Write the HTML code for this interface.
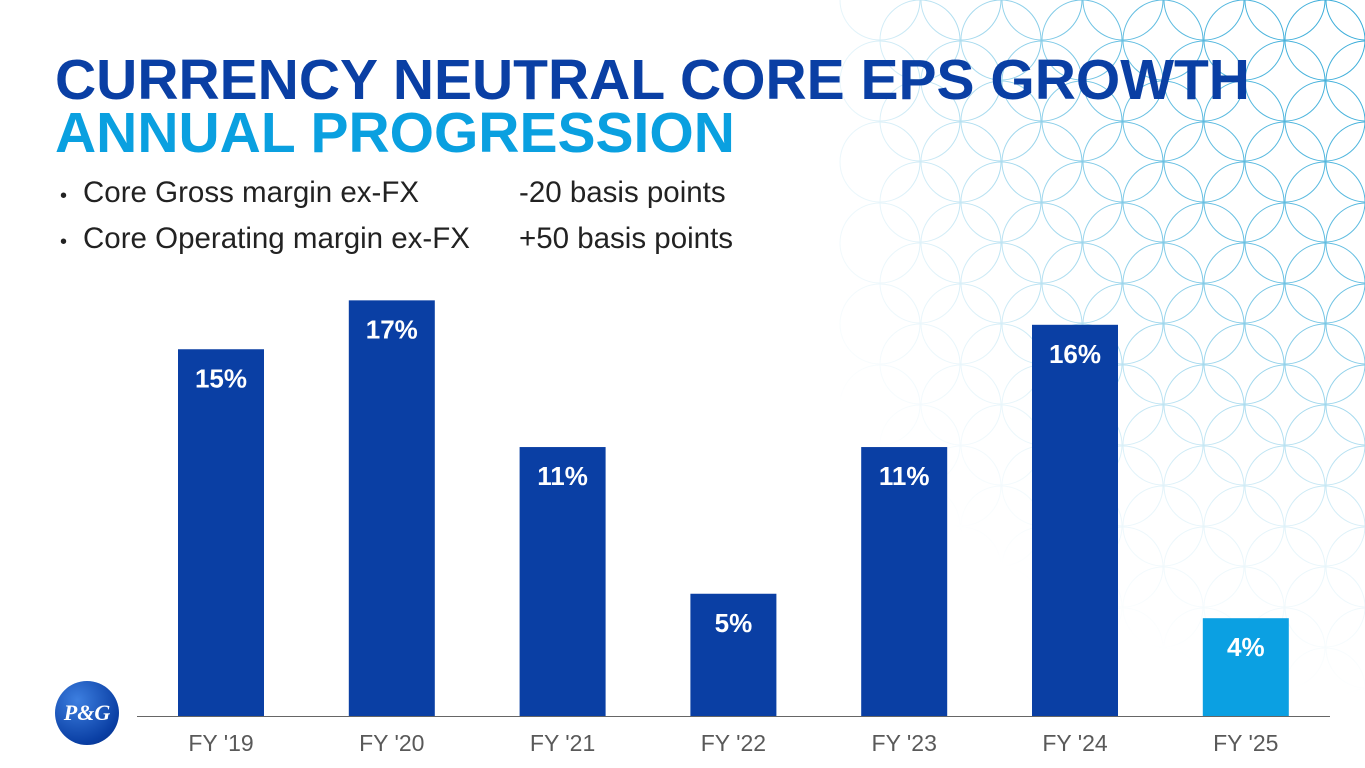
<!DOCTYPE html>
<html style="overflow:hidden"><head><meta charset="utf-8"><style>
html,body{margin:0;width:1365px;height:768px;overflow:hidden}
body{background:#fff;font-family:"Liberation Sans",sans-serif;position:relative}
.t{position:absolute;white-space:nowrap}
svg{display:block}
</style></head><body>
<svg id="pattern" width="1365" height="768" style="position:absolute;left:0;top:0">
<defs>
<radialGradient id="fade" gradientUnits="userSpaceOnUse" cx="1420" cy="-20" r="720">
<stop offset="0" stop-color="#fff" stop-opacity="1"/><stop offset="0.45" stop-color="#fff" stop-opacity="0.7"/><stop offset="0.8" stop-color="#fff" stop-opacity="0.12"/><stop offset="1" stop-color="#fff" stop-opacity="0"/></radialGradient>
<mask id="m"><rect x="0" y="0" width="1365" height="768" fill="url(#fade)"/></mask>
</defs>
<g id="circles" mask="url(#m)" fill="none" stroke="#2aa6d6" stroke-width="1"></g>
</svg>
<div class="t" style="left:55px;top:49px;font-size:57px;font-weight:bold;color:#0a3fa4;line-height:62px">CURRENCY NEUTRAL CORE EPS GROWTH</div>
<div class="t" style="left:55px;top:102px;font-size:57px;font-weight:bold;color:#0aa0e0;line-height:62px">ANNUAL PROGRESSION</div>
<div class="t" style="left:60px;top:181px;font-size:20px;color:#222;line-height:30px">•</div>
<div class="t" style="left:83px;top:176px;font-size:29.5px;color:#222;line-height:34px">Core Gross margin ex-FX</div>
<div class="t" style="left:519px;top:176px;font-size:29.5px;color:#222;line-height:34px">-20 basis points</div>
<div class="t" style="left:60px;top:227px;font-size:20px;color:#222;line-height:30px">•</div>
<div class="t" style="left:83px;top:222px;font-size:29.5px;color:#222;line-height:34px">Core Operating margin ex-FX</div>
<div class="t" style="left:519px;top:222px;font-size:29.5px;color:#222;line-height:34px">+50 basis points</div>
<svg id="chart" width="1365" height="768" style="position:absolute;left:0;top:0"></svg>
<div style="position:absolute;left:55px;top:681px;width:64px;height:64px;border-radius:50%;background:radial-gradient(circle at 35% 30%,#3d7fe0,#0a3fa4 70%,#062c80);color:#fff;font-family:'Liberation Serif',serif;font-style:italic;font-weight:bold;font-size:22px;line-height:64px;text-align:center">P&amp;G</div>
<script>
const categories=["FY '19","FY '20","FY '21","FY '22","FY '23","FY '24","FY '25"];
const values=[15,17,11,5,11,16,4];
const labels=["15%","17%","11%","5%","11%","16%","4%"];
const NS="http://www.w3.org/2000/svg";
const svg=document.getElementById('chart');
const base=716,pxPer=24.45,x0=178,step=170.8,bw=86;
const y=v=>base-v*pxPer;
const x=i=>x0+i*step;
function mk(t,a){const e=document.createElementNS(NS,t);for(const k in a)e.setAttribute(k,a[k]);svg.appendChild(e);return e;}
values.forEach((v,i)=>{
const r=mk('rect',{x:x(i),y:y(v),width:bw,height:base-y(v),fill:i==values.length-1?'#0ba0e2':'#0a3fa4'});


const t=mk('text',{x:x(i)+bw/2,y:y(v)+38,'text-anchor':'middle',fill:'#fff','font-size':26,'font-weight':'bold','font-family':'Liberation Sans'});
t.textContent=labels[i];


const c=mk('text',{x:x(i)+bw/2,y:751,'text-anchor':'middle',fill:'#595959','font-size':23,'font-family':'Liberation Sans'});
c.textContent=categories[i];


});
const ax=mk('line',{x1:137,y1:base+0.5,x2:1330,y2:base+0.5,stroke:'#666','stroke-width':1});


const g=document.getElementById('circles');
for(let i=0;i<8;i++)for(let j=0;j<11;j++){
const c=document.createElementNS(NS,'circle');
c.setAttribute('cx',880+i*81);c.setAttribute('cy',j*81);c.setAttribute('r',40);


g.appendChild(c);
const c2=document.createElementNS(NS,'circle');
c2.setAttribute('cx',920+i*81);c2.setAttribute('cy',40+j*81);c2.setAttribute('r',40);


g.appendChild(c2);
}
</script>
</body></html>
